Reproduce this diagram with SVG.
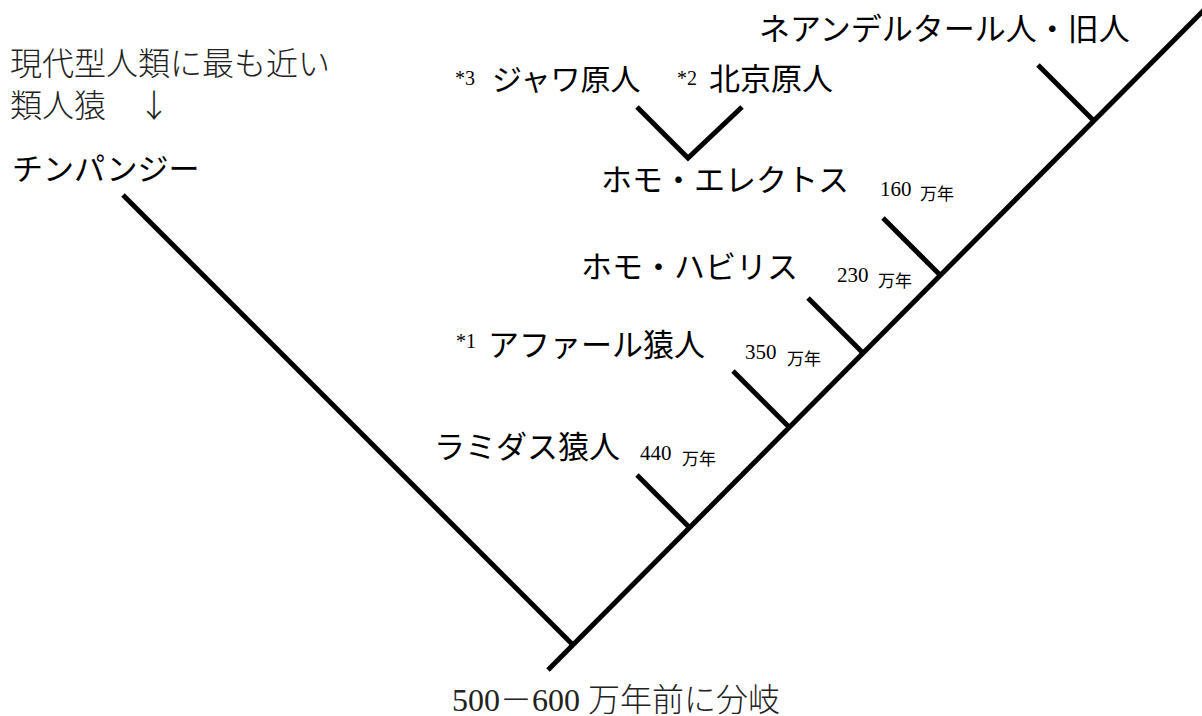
<svg xmlns="http://www.w3.org/2000/svg" width="1202" height="716" viewBox="0 0 1202 716">
<style>
.ln{stroke:#000;stroke-width:5;fill:none;stroke-linecap:butt;stroke-linejoin:miter}
.lb{font-family:"Noto Sans CJK JP","Noto Sans",sans-serif;font-size:31px;fill:#000}
.note{font-family:"Noto Sans CJK JP","Noto Sans",sans-serif;font-size:32px;font-weight:300;fill:#222}
.num{font-family:"Liberation Serif","Noto Sans CJK JP",serif;font-size:21px;fill:#000}
.sup{font-family:"Liberation Serif","Noto Sans CJK JP",serif;font-size:20px;fill:#000}
.man{font-family:"Noto Sans CJK JP","Noto Sans",sans-serif;font-size:17px;fill:#000}
</style>
<rect width="1202" height="716" fill="#fff"/>
<g id="connectors">
<line class="ln" x1="548" y1="670" x2="1204" y2="10"/>
<line class="ln" x1="123" y1="195" x2="573" y2="645"/>
<line class="ln" x1="637" y1="475" x2="690" y2="528"/>
<line class="ln" x1="733" y1="371" x2="789" y2="427"/>
<line class="ln" x1="808" y1="298" x2="863" y2="353"/>
<line class="ln" x1="883" y1="218" x2="940" y2="275"/>
<line class="ln" x1="1038" y1="65" x2="1094" y2="121"/>
<polyline class="ln" points="637,107 688,158 742,107"/>
</g>
<g id="note">
<text class="note" x="10" y="75">現代型人類に最も近い</text>
<text class="note" x="10" y="117">類人猿　↓</text>
</g>
<g id="chimp"><text class="lb" x="12" y="180">チンパンジー</text></g>
<g id="java"><text class="sup" x="455" y="85">*3</text><text class="lb" x="492" y="90" style="font-size:30px">ジャワ原人</text></g>
<g id="peking"><text class="sup" x="677" y="85">*2</text><text class="lb" x="709" y="90">北京原人</text></g>
<g id="neanderthal"><text class="lb" x="759" y="40">ネアンデルタール人・旧人</text></g>
<g id="erectus"><text class="lb" x="601" y="191">ホモ・エレクトス</text><text class="num" x="880" y="196">160</text><text class="man" x="920" y="200">万年</text></g>
<g id="habilis"><text class="lb" x="581" y="278">ホモ・ハビリス</text><text class="num" x="837" y="282">230</text><text class="man" x="878" y="287">万年</text></g>
<g id="afarensis"><text class="sup" x="456" y="348">*1</text><text class="lb" x="488" y="356">アファール猿人</text><text class="num" x="745" y="359">350</text><text class="man" x="787" y="365">万年</text></g>
<g id="ramidus"><text class="lb" x="434" y="458">ラミダス猿人</text><text class="num" x="640" y="460">440</text><text class="man" x="682" y="465">万年</text></g>
<g id="root"><text class="note" x="452" y="711" style="font-family:'Liberation Serif','Noto Sans CJK JP',serif">500－600 万年前に分岐</text></g>
</svg>
